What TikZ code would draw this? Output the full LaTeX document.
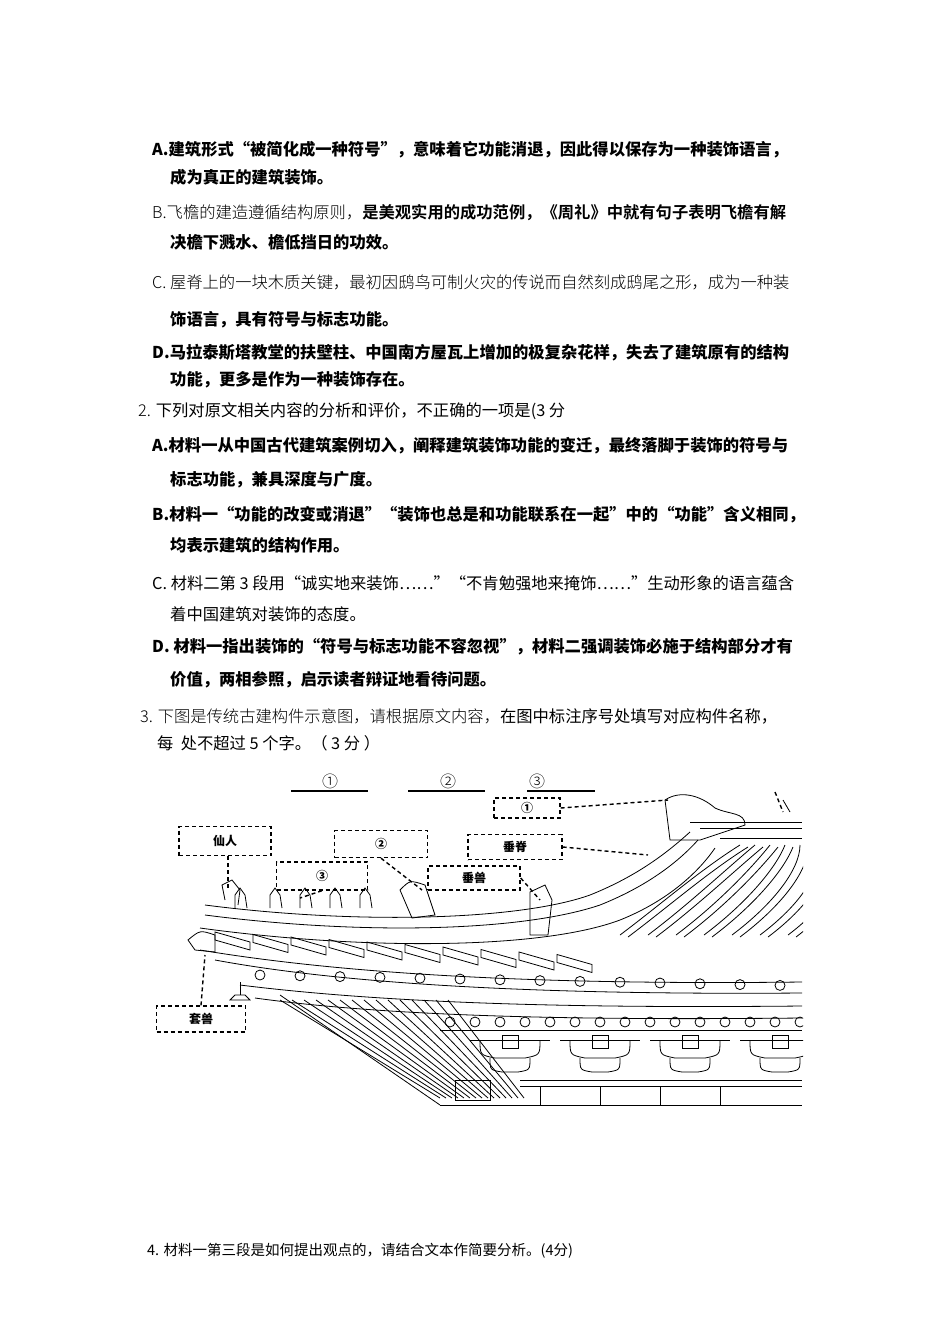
\documentclass[tikz,border=0pt]{standalone}
\usepackage{fontspec}
\setmainfont{Noto Sans CJK SC}
\newfontfamily\cjkl{Noto Sans CJK SC}[UprightFont={* Light}]
\begin{document}
\begin{tikzpicture}[x=1pt,y=-1pt,
 txt/.style={anchor=west,inner sep=0pt,font=\fontsize{16.3}{18}\selectfont},
 bd/.style={txt,font=\fontsize{16.3}{18}\selectfont\bfseries},
 lt/.style={txt,font=\fontsize{16.3}{18}\cjkl},
 lab/.style={draw,line width=1.4pt,dash pattern=on 4pt off 3pt,font=\fontsize{12}{14}\selectfont\bfseries,inner sep=0pt},
 con/.style={line width=1.4pt,dash pattern=on 4pt off 3pt},
 ln/.style={line width=0.8pt},
 thk/.style={line width=1.4pt}]
\useasboundingbox (0,0) rectangle (950,1344);
\fill[white] (0,0) rectangle (950,1344);
% ---- text ----
\node[bd] (a1) at (152,150) {A.建筑形式“被简化成一种符号”，意味着它功能消退，因此得以保存为一种装饰语言，};
\node[bd] (a2) at (170,177) {成为真正的建筑装饰。};
\node[lt] (b1) at (152,213) {B.飞檐的建造遵循结构原则，{\bfseries 是美观实用的成功范例，《周礼》中就有句子表明飞檐有解}};
\node[bd] (b2) at (170,242) {决檐下溅水、檐低挡日的功效。};
\node[lt] (c1) at (152,282) {C. 屋脊上的一块木质关键，最初因鸱鸟可制火灾的传说而自然刻成鸱尾之形，成为一种装};
\node[bd] (c2) at (170,320) {饰语言，具有符号与标志功能。};
\node[bd] (d1) at (152,353) {D.马拉泰斯塔教堂的扶壁柱、中国南方屋瓦上增加的极复杂花样，失去了建筑原有的结构};
\node[bd] (d2) at (170,380) {功能，更多是作为一种装饰存在。};
\node[txt] (q2) at (138,411) {{\cjkl 2.} 下列对原文相关内容的分析和评价，不正确的一项是(3 分};
\node[bd] (qa1) at (152,446) {A.材料一从中国古代建筑案例切入，阐释建筑装饰功能的变迁，最终落脚于装饰的符号与};
\node[bd] (qa2) at (170,480) {标志功能，兼具深度与广度。};
\node[bd] (qb1) at (152,515) {B.材料一“功能的改变或消退”“装饰也总是和功能联系在一起”中的“功能”含义相同，};
\node[bd] (qb2) at (170,545) {均表示建筑的结构作用。};
\node[txt] (qc1) at (152,583) {C. 材料二第 3 段用“诚实地来装饰……”“不肯勉强地来掩饰……”生动形象的语言蕴含};
\node[txt] (qc2) at (170,614) {着中国建筑对装饰的态度。};
\node[bd] (qd1) at (152,647) {D. 材料一指出装饰的“符号与标志功能不容忽视”，材料二强调装饰必施于结构部分才有};
\node[bd] (qd2) at (170,680) {价值，两相参照，启示读者辩证地看待问题。};
\node[lt] (q3) at (140,716) {3. 下图是传统古建构件示意图，请根据原文内容，{\normalfont 在图中标注序号处填写对应构件名称，}};
\node[txt] (q3b) at (157,743) {每\ \ 处不超过 5 个字。（ 3 分 ）};
\node[txt,font=\fontsize{14.5}{16}\selectfont] (q4) at (147,1251) {4. 材料一第三段是如何提出观点的，请结合文本作简要分析。(4分)};
% ---- blanks ----
\node[font=\fontsize{16}{16}\cjkl] (n1) at (330,781) {①};
\node[font=\fontsize{16}{16}\cjkl] (n2) at (448,781) {②};
\node[font=\fontsize{16}{16}\cjkl] (n3) at (537,781) {③};
\draw[thk] (291,791) -- (368,791);
\draw[thk] (408,791) -- (485,791);
\draw[line width=2pt] (527,791) -- (595,791);
% ---- roof drawing ----
\begin{scope}[ln]
\clip (180,785) rectangle (803,1107);
% main ridge top right
\draw (690,822) -- (802,822); \draw (700,828) -- (802,828); \draw (720,838)--(802,838);
\draw (665,800) .. controls (680,790) and (700,795) .. (715,808) .. controls (730,815) and (745,812) .. (745,825) -- (700,840) -- (670,840) -- cycle;
\draw (783,800)--(790,812);
% sweeping eave
\draw (205,905) .. controls (360,925) and (520,920) .. (590,895) .. controls (640,875) and (670,850) .. (690,832);
\draw (205,915) .. controls (360,935) and (520,932) .. (600,905) .. controls (650,885) and (680,860) .. (698,840);
\draw (200,928) .. controls (360,950) and (540,950) .. (620,920) .. controls (670,900) and (700,870) .. (715,848);
% tile ridges
\foreach \i in {0,...,6}{
 \draw (620+\i*28,935) .. controls (660+\i*28,905) and (700+\i*25,870) .. (740+\i*15,845);
 \draw (628+\i*28,937) .. controls (668+\i*28,907) and (708+\i*25,872) .. (748+\i*15,847);}
% tiles on left slope
\foreach \i in {0,...,9}{
 \draw (215+\i*38,932+\i*2.5) -- (250+\i*38,942+\i*2.5) -- (250+\i*38,950+\i*2.5) -- (215+\i*38,940+\i*2.5) -- cycle;}
% eave line and tile ends
\draw (200,950) .. controls (350,975) and (550,985) .. (802,982);
\draw (215,960) .. controls (350,985) and (550,995) .. (802,993);
\foreach \x in {260,300,...,800}{ \draw (\x,{975+ (\x-260)*0.02}) circle (5); }
% rafters
\draw (240,985) .. controls (400,1005) and (600,1008) .. (802,1006);
\draw (255,998) .. controls (400,1018) and (600,1020) .. (802,1018);
\foreach \x in {450,475,...,800}{ \draw (\x,1022) circle (5); }
\draw (440,1030) -- (802,1030);
% brackets
\foreach \x in {510,600,690,780}{
 \draw (\x-40,1040) -- (\x+40,1040);
 \draw (\x-30,1040) .. controls (\x-30,1055) .. (\x-15,1058) -- (\x+15,1058) .. controls (\x+30,1055) .. (\x+30,1040);
 \draw (\x-20,1058) .. controls (\x-20,1070) .. (\x-8,1072) -- (\x+8,1072) .. controls (\x+20,1070) .. (\x+20,1058);
 \draw (\x-8,1035) rectangle (\x+8,1048);}
\draw (520,1080) -- (802,1080); \draw (520,1086) -- (802,1086);
\foreach \x in {540,600,660,720}{ \draw (\x,1086) -- (\x,1105); }
% diagonal rafters
\foreach \i in {0,...,14}{
 \draw (280+\i*12,1000) -- (440+\i*6,1098);}
\draw (280,995) -- (440,1105);
\draw (440,1105) -- (802,1105);
\draw (455,1080) rectangle (490,1100);
% figurines on ridge
\foreach \x in {235,270,300,330,360}{
 \draw (\x,908) -- (\x,895) -- (\x+5,888) -- (\x+10,895) -- (\x+12,908);}
\draw (225,900) -- (222,885) -- (232,880) -- (240,890) -- (238,905);
\draw (400,890) .. controls (410,880) .. (425,885) -- (435,915) -- (412,918) -- cycle;
\draw (530,892) -- (545,885) -- (552,900) -- (548,935) -- (530,935) -- cycle;
% kiss beast and bell
\draw (188,940) .. controls (200,930) .. (215,935) -- (215,952) -- (195,950) -- cycle;
\draw (235,995) -- (245,995) -- (250,1000) -- (230,1000) -- cycle; \draw (240,982) -- (240,995);
\end{scope}
% ---- dashed labels ----
\node[lab,minimum width=66pt,minimum height=20pt] (L1) at (527,808) {①};
\node[lab,minimum width=92pt,minimum height=29pt] (Lxr) at (225,841) {仙人};
\node[lab,minimum width=93pt,minimum height=27pt] (L2) at (381,844) {②};
\node[lab,minimum width=91pt,minimum height=28pt] (L3) at (322,876) {③};
\node[lab,minimum width=94pt,minimum height=25pt] (Lcj) at (515,847) {垂脊};
\node[lab,minimum width=92pt,minimum height=24pt] (Lcs) at (474,878) {垂兽};
\node[lab,minimum width=89pt,minimum height=26pt] (Lts) at (201,1019) {套兽};
\coordinate (p1) at (668,800);
\coordinate (p2) at (422,890);
\coordinate (p3) at (300,898);
\coordinate (pxr) at (228,888);
\coordinate (pcj) at (648,855);
\coordinate (pcs) at (540,900);
\coordinate (pts) at (205,955);
\coordinate (tr1) at (775,792);
\coordinate (tr2) at (783,812);
\draw[con] (L1.east) -- (p1);
\draw[con] (tr1) -- (tr2);
\draw[con] (Lxr.south -| pxr) -- (pxr);
\draw[con] (L2.south) -- (p2);
\draw[con] (L3.south) -- (p3);
\draw[con] (Lcj.east) -- (pcj);
\draw[con] (Lcs.east) -- (pcs);
\draw[con] (Lts.north) -- (pts);
\end{tikzpicture}
\end{document}
